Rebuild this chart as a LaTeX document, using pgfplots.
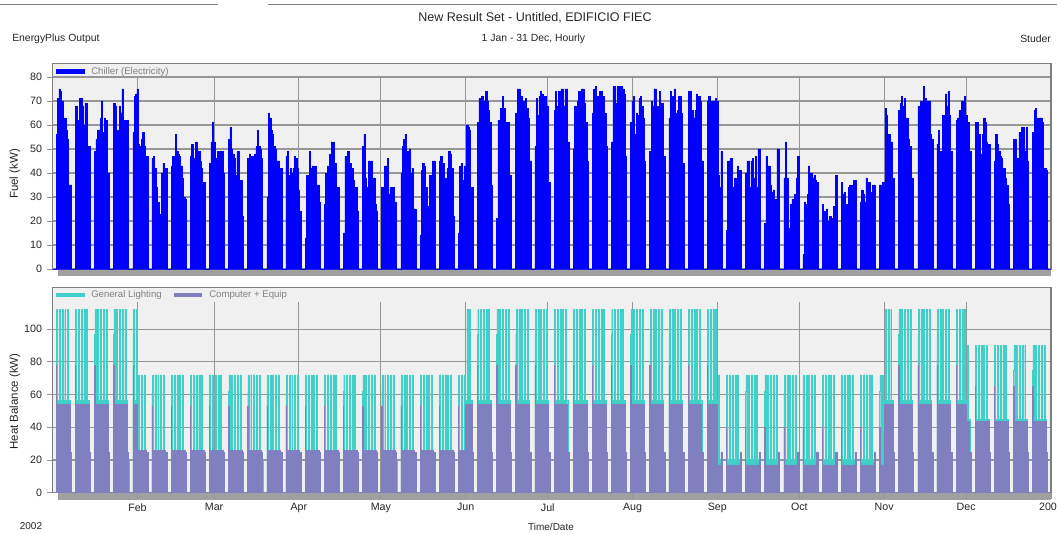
\documentclass[border=0pt]{standalone}
\usepackage{fontspec}
\setmainfont{Liberation Sans}
\usepackage{pgfplots}
\pgfplotsset{compat=1.18}

\definecolor{chill}{RGB}{0,0,255}
\definecolor{light}{RGB}{64,208,200}
\definecolor{equip}{RGB}{128,128,192}
\definecolor{panel}{RGB}{239,240,239}
\definecolor{gridc}{RGB}{150,150,150}
\definecolor{framec}{RGB}{128,128,128}
\definecolor{floorc}{RGB}{160,160,160}
\definecolor{legtext}{RGB}{128,128,128}

\pgfplotsset{
  eplus/.style={
    scale only axis,
    width=748.7pt, height=154.1pt,
    xmin=0, xmax=365, ymin=0,
    axis background/.style={fill=panel},
    axis line style={draw=framec, line width=0.8pt},
    tick align=outside,
    xtick pos=lower, ytick pos=left,
    major tick length=4.5pt,
    tick style={draw=gridc, line width=0.7pt},
    ymajorgrids,
    grid style={draw=gridc, line width=0.8pt},
    tick label style={font=\fontsize{8}{9}\selectfont, text=black!85},
    /pgf/number format/assume math mode=true,
  },
}

\begin{document}
\begin{tikzpicture}
\path[use as bounding box] (0,0) rectangle (792.75pt,399.75pt);

% header
\draw[framec, line width=0.75pt] (0,396pt) -- (163.5pt,396pt);
\draw[framec, line width=0.75pt] (201pt,396pt) -- (792.75pt,396pt);
\node[font=\fontsize{9.4}{11}\selectfont, text=black!85] at (401.25pt,386.25pt) {New Result Set - Untitled, EDIFICIO FIEC};
\node[font=\fontsize{7.8}{9}\selectfont, anchor=west, inner sep=0pt, text=black!85] at (9pt,370.5pt) {EnergyPlus Output};
\node[font=\fontsize{7.8}{9}\selectfont, text=black!85] at (400.1pt,370.5pt) {1 Jan - 31 Dec, Hourly};
\node[font=\fontsize{7.8}{9}\selectfont, anchor=west, inner sep=0pt, text=black!85] at (765pt,370.5pt) {Studer};

% floor strips
\fill[floorc] (43.7pt,192.75pt) rectangle (788.25pt,198pt);
\fill[floorc] (43.7pt,24.75pt) rectangle (788.25pt,30.2pt);

% ---------------- top panel: chiller electricity
\begin{axis}[eplus, at={(39.525pt,198pt)}, anchor=south west,
  ymax=85.6, ytick={0,10,...,80}, xtick=\empty]
\pgfplotsinvokeforeach{31,59,90,120,151,181,212,243,273,304,334}{
  \draw[gridc, line width=0.8pt] (axis cs:#1,0) -- (axis cs:#1,80);}
\addplot[const plot, fill=chill, draw=chill, line width=0.4pt] coordinates {
(0,0)
(1.3,56) (1.8,71) (2.3,75) (2.8,74) (3.3,70) (3.8,62) (4.3,63) (4.8,58) (5.3,54) (5.8,35) (6.3,35) (6.8,0)
(8.3,68) (8.8,58) (9.3,62) (9.8,71) (10.3,71) (10.8,68) (11.3,60) (11.8,69) (12.3,69) (12.8,51) (13.3,51) (13.8,0)
(15.3,49) (15.8,54) (16.3,58) (16.8,58) (17.3,63) (17.8,70) (18.3,57) (18.8,63) (19.3,62) (19.8,40) (20.3,40) (20.8,0)
(22.3,69) (22.8,68) (23.3,58) (23.8,57) (24.3,68) (24.8,65) (25.3,75) (25.8,62) (26.3,62) (26.8,62) (27.3,62) (27.8,0)
(29.3,57) (29.8,72) (30.3,73) (30.8,75) (31.3,52) (31.8,51) (32.3,54) (32.8,57) (33.3,51) (33.8,47) (34.3,47) (34.8,0)
(36.3,46) (36.8,47) (37.3,42) (37.8,34) (38.3,28) (38.8,23) (39.3,22) (39.8,40) (40.3,44) (40.8,42) (41.3,42) (41.8,0)
(43.3,43) (43.8,47) (44.3,47) (44.8,56) (45.3,49) (45.8,48) (46.3,47) (46.8,43) (47.3,38) (47.8,30) (48.3,29) (48.8,0)
(50.3,47) (50.8,52) (51.3,45) (51.8,46) (52.3,53) (52.8,45) (53.3,49) (53.8,45) (54.3,42) (54.8,36) (55.3,36) (55.8,0)
(57.3,44) (57.8,53) (58.3,61) (58.8,53) (59.3,46) (59.8,45) (60.3,49) (60.8,38) (61.3,49) (61.8,49) (62.3,40) (62.8,0)
(64.3,54) (64.8,59) (65.3,50) (65.8,48) (66.3,46) (66.8,39) (67.3,49) (67.8,49) (68.3,37) (68.8,37) (69.3,22) (69.8,0)
(71.3,46) (71.8,48) (72.3,47) (72.8,42) (73.3,47) (73.8,48) (74.3,51) (74.8,58) (75.3,51) (75.8,50) (76.3,46) (76.8,0)
(78.3,30) (78.8,65) (79.3,63) (79.8,58) (80.3,56) (80.8,51) (81.3,50) (81.8,45) (82.3,45) (82.8,42) (83.3,42) (83.8,0)
(85.3,47) (85.8,49) (86.3,39) (86.8,42) (87.3,40) (87.8,42) (88.3,47) (88.8,46) (89.3,42) (89.8,33) (90.3,24) (90.8,0)
(92.3,13) (92.8,39) (93.3,39) (93.8,49) (94.3,42) (94.8,43) (95.3,37) (95.8,43) (96.3,35) (96.8,35) (97.3,28) (97.8,0)
(99.3,27) (99.8,40) (100.3,43) (100.8,41) (101.3,48) (101.8,53) (102.3,53) (102.8,44) (103.3,44) (103.8,34) (104.3,34) (104.8,0)
(106.3,15) (106.8,47) (107.3,47) (107.8,49) (108.3,43) (108.8,44) (109.3,42) (109.8,37) (110.3,33) (110.8,34) (111.3,24) (111.8,0)
(113.3,51) (113.8,56) (114.3,38) (114.8,34) (115.3,45) (115.8,45) (116.3,45) (116.8,38) (117.3,38) (117.8,27) (118.3,24) (118.8,0)
(120.3,34) (120.8,34) (121.3,43) (121.8,43) (122.3,46) (122.8,31) (123.3,34) (123.8,28) (124.3,34) (124.8,22) (125.3,28) (125.8,0)
(127.3,40) (127.8,51) (128.3,54) (128.8,56) (129.3,45) (129.8,49) (130.3,50) (130.8,40) (131.3,42) (131.8,25) (132.3,25) (132.8,0)
(134.3,14) (134.8,41) (135.3,44) (135.8,43) (136.3,34) (136.8,22) (137.3,26) (137.8,39) (138.3,39) (138.8,45) (139.3,45) (139.8,0)
(141.3,45) (141.8,47) (142.3,41) (142.8,44) (143.3,38) (143.8,38) (144.3,42) (144.8,49) (145.3,48) (145.8,42) (146.3,22) (146.8,0)
(148.3,15) (148.8,43) (149.3,44) (149.8,37) (150.3,43) (150.8,43) (151.3,60) (151.8,59) (152.3,58) (152.8,34) (153.3,34) (153.8,0)
(155.3,61) (155.8,71) (156.3,71) (156.8,72) (157.3,66) (157.8,70) (158.3,74) (158.8,70) (159.3,66) (159.8,61) (160.3,35) (160.8,0)
(162.3,21) (162.8,62) (163.3,61) (163.8,67) (164.3,72) (164.8,67) (165.3,61) (165.8,61) (166.3,61) (166.8,39) (167.3,39) (167.8,0)
(169.3,65) (169.8,75) (170.3,75) (170.8,68) (171.3,72) (171.8,70) (172.3,67) (172.8,71) (173.3,67) (173.8,63) (174.3,45) (174.8,0)
(176.3,51) (176.8,71) (177.3,64) (177.8,72) (178.3,74) (178.8,73) (179.3,68) (179.8,72) (180.3,68) (180.8,68) (181.3,36) (181.8,0)
(183.3,66) (183.8,74) (184.3,68) (184.8,74) (185.3,74) (185.8,75) (186.3,75) (186.8,68) (187.3,75) (187.8,75) (188.3,53) (188.8,0)
(190.3,50) (190.8,68) (191.3,67) (191.8,70) (192.3,74) (192.8,70) (193.3,75) (193.8,75) (194.3,69) (194.8,61) (195.3,45) (195.8,0)
(197.3,65) (197.8,75) (198.3,76) (198.8,72) (199.3,68) (199.8,74) (200.3,74) (200.8,67) (201.3,72) (201.8,65) (202.3,51) (202.8,0)
(204.3,53) (204.8,76) (205.3,76) (205.8,69) (206.3,76) (206.8,69) (207.3,76) (207.8,76) (208.3,75) (208.8,73) (209.3,47) (209.8,0)
(211.3,61) (211.8,70) (212.3,72) (212.8,56) (213.3,65) (213.8,64) (214.3,71) (214.8,72) (215.3,68) (215.8,63) (216.3,45) (216.8,0)
(218.3,49) (218.8,70) (219.3,68) (219.8,75) (220.3,75) (220.8,68) (221.3,64) (221.8,74) (222.3,69) (222.8,69) (223.3,47) (223.8,0)
(225.3,63) (225.8,74) (226.3,72) (226.8,65) (227.3,75) (227.8,65) (228.3,66) (228.8,72) (229.3,72) (229.8,65) (230.3,44) (230.8,0)
(232.3,74) (232.8,74) (233.3,63) (233.8,66) (234.3,63) (234.8,66) (235.3,73) (235.8,72) (236.3,72) (236.8,70) (237.3,45) (237.8,0)
(239.3,70) (239.8,72) (240.3,70) (240.8,62) (241.3,70) (241.8,70) (242.3,71) (242.8,70) (243.3,39) (243.8,34) (244.3,49) (244.8,0)
(246.3,16) (246.8,45) (247.3,45) (247.8,46) (248.3,30) (248.8,34) (249.3,38) (249.8,28) (250.3,43) (250.8,41) (251.3,41) (251.8,0)
(253.3,40) (253.8,45) (254.3,45) (254.8,34) (255.3,45) (255.8,46) (256.3,38) (256.8,47) (257.3,34) (257.8,50) (258.3,50) (258.8,0)
(260.3,19) (260.8,47) (261.3,43) (261.8,43) (262.3,35) (262.8,32) (263.3,33) (263.8,28) (264.3,29) (264.8,50) (265.3,50) (265.8,0)
(267.3,38) (267.8,53) (268.3,38) (268.8,17) (269.3,15) (269.8,27) (270.3,29) (270.8,28) (271.3,31) (271.8,38) (272.3,47) (272.8,0)
(274.3,6) (274.8,28) (275.3,27) (275.8,31) (276.3,43) (276.8,40) (277.3,40) (277.8,38) (278.3,39) (278.8,37) (279.3,36) (279.8,0)
(281.3,27) (281.8,24) (282.3,24) (282.8,25) (283.3,20) (283.8,22) (284.3,22) (284.8,21) (285.3,26) (285.8,21) (286.3,39) (286.8,0)
(288.3,36) (288.8,31) (289.3,32) (289.8,25) (290.3,27) (290.8,34) (291.3,35) (291.8,34) (292.3,35) (292.8,37) (293.3,37) (293.8,0)
(295.3,28) (295.8,33) (296.3,31) (296.8,28) (297.3,38) (297.8,33) (298.3,36) (298.8,32) (299.3,31) (299.8,35) (300.3,35) (300.8,0)
(302.3,35) (302.8,31) (303.3,36) (303.8,36) (304.3,67) (304.8,64) (305.3,56) (305.8,56) (306.3,53) (306.8,38) (307.3,38) (307.8,0)
(309.3,66) (309.8,69) (310.3,72) (310.8,68) (311.3,71) (311.8,63) (312.3,63) (312.8,54) (313.3,51) (313.8,38) (314.3,38) (314.8,0)
(316.3,68) (316.8,64) (317.3,70) (317.8,65) (318.3,76) (318.8,71) (319.3,70) (319.8,65) (320.3,70) (320.8,56) (321.3,54) (321.8,0)
(323.3,52) (323.8,58) (324.3,49) (324.8,49) (325.3,64) (325.8,53) (326.3,73) (326.8,68) (327.3,74) (327.8,64) (328.3,49) (328.8,0)
(330.3,62) (330.8,63) (331.3,66) (331.8,66) (332.3,70) (332.8,63) (333.3,72) (333.8,64) (334.3,61) (334.8,61) (335.3,49) (335.8,0)
(337.3,61) (337.8,61) (338.3,47) (338.8,56) (339.3,48) (339.8,56) (340.3,63) (340.8,61) (341.3,53) (341.8,52) (342.3,52) (342.8,0)
(344.3,45) (344.8,56) (345.3,52) (345.8,49) (346.3,47) (346.8,46) (347.3,42) (347.8,42) (348.3,38) (348.8,35) (349.3,27) (349.8,0)
(351.3,54) (351.8,54) (352.3,45) (352.8,46) (353.3,57) (353.8,54) (354.3,59) (354.8,59) (355.3,49) (355.8,59) (356.3,45) (356.8,0)
(358.3,57) (358.8,66) (359.3,67) (359.8,63) (360.3,56) (360.8,63) (361.3,63) (361.8,61) (362.3,42) (362.8,42) (363.3,41) (363.8,0)
(365,0)
} \closedcycle;
\end{axis}

% ---------------- bottom panel: heat balance
\begin{axis}[eplus, at={(39.525pt,30.225pt)}, anchor=south west,
  ymax=125.6, ytick={0,20,...,100},
  xtick={31,59,90,120,151,181,212,243,273,304,334,365},
  xticklabels={Feb,Mar,Apr,May,Jun,Jul,Aug,Sep,Oct,Nov,Dec,2003},
  xticklabel style={font=\fontsize{8}{9}\selectfont}]
\pgfplotsinvokeforeach{31,59,90,120,151,181,212,243,273,304,334}{
  \draw[gridc, line width=0.8pt] (axis cs:#1,0) -- (axis cs:#1,116.8);}
% General Lighting
\addplot[const plot, fill=light, draw=light, line width=0.3pt] coordinates {
(0,0)
(1.3,97) (1.4,112) (1.75,56.5) (2.4,112) (2.75,56.5) (3.4,112) (3.75,56.5) (4.4,112) (4.75,56.5) (5.4,112) (5.75,56.5) (6.3,20) (6.8,0)
(8.3,97) (8.4,112) (8.75,56.5) (9.4,112) (9.75,56.5) (10.4,112) (10.75,56.5) (11.4,112) (11.75,56.5) (12.4,112) (12.75,56.5) (13.3,20) (13.8,0)
(15.3,97) (15.4,112) (15.75,56.5) (16.4,112) (16.75,56.5) (17.4,112) (17.75,56.5) (18.4,112) (18.75,56.5) (19.4,112) (19.75,56.5) (20.3,20) (20.8,0)
(22.3,97) (22.4,112) (22.75,56.5) (23.4,112) (23.75,56.5) (24.4,112) (24.75,56.5) (25.4,112) (25.75,56.5) (26.4,112) (26.75,56.5) (27.3,20) (27.8,0)
(29.3,97) (29.4,112) (29.75,56.5) (30.4,112) (30.75,56.5) (31,24) (31.4,72) (31.75,24) (32.4,72) (32.75,24) (33.4,72) (33.75,24) (34.3,20) (34.8,0)
(36.3,62) (36.4,72) (36.75,24) (37.4,72) (37.75,24) (38.4,72) (38.75,24) (39.4,72) (39.75,24) (40.4,72) (40.75,24) (41.3,20) (41.8,0)
(43.3,62) (43.4,72) (43.75,24) (44.4,72) (44.75,24) (45.4,72) (45.75,24) (46.4,72) (46.75,24) (47.4,72) (47.75,24) (48.3,20) (48.8,0)
(50.3,62) (50.4,72) (50.75,24) (51.4,72) (51.75,24) (52.4,72) (52.75,24) (53.4,72) (53.75,24) (54.4,72) (54.75,24) (55.3,20) (55.8,0)
(57.3,62) (57.4,72) (57.75,24) (58.4,72) (58.75,24) (59.4,72) (59.75,24) (60.4,72) (60.75,24) (61.4,72) (61.75,24) (62.3,20) (62.8,0)
(64.3,62) (64.4,72) (64.75,24) (65.4,72) (65.75,24) (66.4,72) (66.75,24) (67.4,72) (67.75,24) (68.4,72) (68.75,24) (69.3,20) (69.8,0)
(71.3,62) (71.4,72) (71.75,24) (72.4,72) (72.75,24) (73.4,72) (73.75,24) (74.4,72) (74.75,24) (75.4,72) (75.75,24) (76.3,20) (76.8,0)
(78.3,62) (78.4,72) (78.75,24) (79.4,72) (79.75,24) (80.4,72) (80.75,24) (81.4,72) (81.75,24) (82.4,72) (82.75,24) (83.3,20) (83.8,0)
(85.3,62) (85.4,72) (85.75,24) (86.4,72) (86.75,24) (87.4,72) (87.75,24) (88.4,72) (88.75,24) (89.4,72) (89.75,24) (90.3,20) (90.8,0)
(92.3,62) (92.4,72) (92.75,24) (93.4,72) (93.75,24) (94.4,72) (94.75,24) (95.4,72) (95.75,24) (96.4,72) (96.75,24) (97.3,20) (97.8,0)
(99.3,62) (99.4,72) (99.75,24) (100.4,72) (100.75,24) (101.4,72) (101.75,24) (102.4,72) (102.75,24) (103.4,72) (103.75,24) (104.3,20) (104.8,0)
(106.3,62) (106.4,72) (106.75,24) (107.4,72) (107.75,24) (108.4,72) (108.75,24) (109.4,72) (109.75,24) (110.4,72) (110.75,24) (111.3,20) (111.8,0)
(113.3,62) (113.4,72) (113.75,24) (114.4,72) (114.75,24) (115.4,72) (115.75,24) (116.4,72) (116.75,24) (117.4,72) (117.75,24) (118.3,20) (118.8,0)
(120.3,62) (120.4,72) (120.75,24) (121.4,72) (121.75,24) (122.4,72) (122.75,24) (123.4,72) (123.75,24) (124.4,72) (124.75,24) (125.3,20) (125.8,0)
(127.3,62) (127.4,72) (127.75,24) (128.4,72) (128.75,24) (129.4,72) (129.75,24) (130.4,72) (130.75,24) (131.4,72) (131.75,24) (132.3,20) (132.8,0)
(134.3,62) (134.4,72) (134.75,24) (135.4,72) (135.75,24) (136.4,72) (136.75,24) (137.4,72) (137.75,24) (138.4,72) (138.75,24) (139.3,20) (139.8,0)
(141.3,62) (141.4,72) (141.75,24) (142.4,72) (142.75,24) (143.4,72) (143.75,24) (144.4,72) (144.75,24) (145.4,72) (145.75,24) (146.3,20) (146.8,0)
(148.3,62) (148.4,72) (148.75,24) (149.4,72) (149.75,24) (150.4,72) (150.75,24) (151,56.5) (151.4,112) (151.75,56.5) (152.4,112) (152.75,56.5) (153.3,20) (153.8,0)
(155.3,97) (155.4,112) (155.75,56.5) (156.4,112) (156.75,56.5) (157.4,112) (157.75,56.5) (158.4,112) (158.75,56.5) (159.4,112) (159.75,56.5) (160.3,20) (160.8,0)
(162.3,97) (162.4,112) (162.75,56.5) (163.4,112) (163.75,56.5) (164.4,112) (164.75,56.5) (165.4,112) (165.75,56.5) (166.4,112) (166.75,56.5) (167.3,20) (167.8,0)
(169.3,97) (169.4,112) (169.75,56.5) (170.4,112) (170.75,56.5) (171.4,112) (171.75,56.5) (172.4,112) (172.75,56.5) (173.4,112) (173.75,56.5) (174.3,20) (174.8,0)
(176.3,97) (176.4,112) (176.75,56.5) (177.4,112) (177.75,56.5) (178.4,112) (178.75,56.5) (179.4,112) (179.75,56.5) (180.4,112) (180.75,56.5) (181.3,20) (181.8,0)
(183.3,97) (183.4,112) (183.75,56.5) (184.4,112) (184.75,56.5) (185.4,112) (185.75,56.5) (186.4,112) (186.75,56.5) (187.4,112) (187.75,56.5) (188.3,20) (188.8,0)
(190.3,97) (190.4,112) (190.75,56.5) (191.4,112) (191.75,56.5) (192.4,112) (192.75,56.5) (193.4,112) (193.75,56.5) (194.4,112) (194.75,56.5) (195.3,20) (195.8,0)
(197.3,97) (197.4,112) (197.75,56.5) (198.4,112) (198.75,56.5) (199.4,112) (199.75,56.5) (200.4,112) (200.75,56.5) (201.4,112) (201.75,56.5) (202.3,20) (202.8,0)
(204.3,97) (204.4,112) (204.75,56.5) (205.4,112) (205.75,56.5) (206.4,112) (206.75,56.5) (207.4,112) (207.75,56.5) (208.4,112) (208.75,56.5) (209.3,20) (209.8,0)
(211.3,97) (211.4,112) (211.75,56.5) (212.4,112) (212.75,56.5) (213.4,112) (213.75,56.5) (214.4,112) (214.75,56.5) (215.4,112) (215.75,56.5) (216.3,20) (216.8,0)
(218.3,97) (218.4,112) (218.75,56.5) (219.4,112) (219.75,56.5) (220.4,112) (220.75,56.5) (221.4,112) (221.75,56.5) (222.4,112) (222.75,56.5) (223.3,20) (223.8,0)
(225.3,97) (225.4,112) (225.75,56.5) (226.4,112) (226.75,56.5) (227.4,112) (227.75,56.5) (228.4,112) (228.75,56.5) (229.4,112) (229.75,56.5) (230.3,20) (230.8,0)
(232.3,97) (232.4,112) (232.75,56.5) (233.4,112) (233.75,56.5) (234.4,112) (234.75,56.5) (235.4,112) (235.75,56.5) (236.4,112) (236.75,56.5) (237.3,20) (237.8,0)
(239.3,97) (239.4,112) (239.75,56.5) (240.4,112) (240.75,56.5) (241.4,112) (241.75,56.5) (242.4,112) (242.75,56.5) (243,20.5) (243.4,72) (243.75,20.5) (244.3,20) (244.8,0)
(246.3,62) (246.4,72) (246.75,20.5) (247.4,72) (247.75,20.5) (248.4,72) (248.75,20.5) (249.4,72) (249.75,20.5) (250.4,72) (250.75,20.5) (251.3,20) (251.8,0)
(253.3,62) (253.4,72) (253.75,20.5) (254.4,72) (254.75,20.5) (255.4,72) (255.75,20.5) (256.4,72) (256.75,20.5) (257.4,72) (257.75,20.5) (258.3,20) (258.8,0)
(260.3,62) (260.4,72) (260.75,20.5) (261.4,72) (261.75,20.5) (262.4,72) (262.75,20.5) (263.4,72) (263.75,20.5) (264.4,72) (264.75,20.5) (265.3,20) (265.8,0)
(267.3,62) (267.4,72) (267.75,20.5) (268.4,72) (268.75,20.5) (269.4,72) (269.75,20.5) (270.4,72) (270.75,20.5) (271.4,72) (271.75,20.5) (272.3,20) (272.8,0)
(274.3,62) (274.4,72) (274.75,20.5) (275.4,72) (275.75,20.5) (276.4,72) (276.75,20.5) (277.4,72) (277.75,20.5) (278.4,72) (278.75,20.5) (279.3,20) (279.8,0)
(281.3,62) (281.4,72) (281.75,20.5) (282.4,72) (282.75,20.5) (283.4,72) (283.75,20.5) (284.4,72) (284.75,20.5) (285.4,72) (285.75,20.5) (286.3,20) (286.8,0)
(288.3,62) (288.4,72) (288.75,20.5) (289.4,72) (289.75,20.5) (290.4,72) (290.75,20.5) (291.4,72) (291.75,20.5) (292.4,72) (292.75,20.5) (293.3,20) (293.8,0)
(295.3,62) (295.4,72) (295.75,20.5) (296.4,72) (296.75,20.5) (297.4,72) (297.75,20.5) (298.4,72) (298.75,20.5) (299.4,72) (299.75,20.5) (300.3,20) (300.8,0)
(302.3,62) (302.4,72) (302.75,20.5) (303.4,72) (303.75,20.5) (304,56.5) (304.4,112) (304.75,56.5) (305.4,112) (305.75,56.5) (306.4,112) (306.75,56.5) (307.3,20) (307.8,0)
(309.3,97) (309.4,112) (309.75,56.5) (310.4,112) (310.75,56.5) (311.4,112) (311.75,56.5) (312.4,112) (312.75,56.5) (313.4,112) (313.75,56.5) (314.3,20) (314.8,0)
(316.3,97) (316.4,112) (316.75,56.5) (317.4,112) (317.75,56.5) (318.4,112) (318.75,56.5) (319.4,112) (319.75,56.5) (320.4,112) (320.75,56.5) (321.3,20) (321.8,0)
(323.3,97) (323.4,112) (323.75,56.5) (324.4,112) (324.75,56.5) (325.4,112) (325.75,56.5) (326.4,112) (326.75,56.5) (327.4,112) (327.75,56.5) (328.3,20) (328.8,0)
(330.3,97) (330.4,112) (330.75,56.5) (331.4,112) (331.75,56.5) (332.4,112) (332.75,56.5) (333.4,112) (333.75,56.5) (334,45) (334.4,90) (334.75,45) (335.3,20) (335.8,0)
(337.3,75) (337.4,90) (337.75,45) (338.4,90) (338.75,45) (339.4,90) (339.75,45) (340.4,90) (340.75,45) (341.4,90) (341.75,45) (342.3,20) (342.8,0)
(344.3,75) (344.4,90) (344.75,45) (345.4,90) (345.75,45) (346.4,90) (346.75,45) (347.4,90) (347.75,45) (348.4,90) (348.75,45) (349.3,20) (349.8,0)
(351.3,75) (351.4,90) (351.75,45) (352.4,90) (352.75,45) (353.4,90) (353.75,45) (354.4,90) (354.75,45) (355.4,90) (355.75,45) (356.3,20) (356.8,0)
(358.3,75) (358.4,90) (358.75,45) (359.4,90) (359.75,45) (360.4,90) (360.75,45) (361.4,90) (361.75,45) (362.4,90) (362.75,45) (363.3,20) (363.8,0)
(365,0)
} \closedcycle;
% Computer + Equip
\addplot[const plot, fill=equip, draw=equip, line width=0.4pt] coordinates {
(0,0)
(1.3,78) (1.4,54) (6.3,25) (6.8,0)
(8.3,78) (8.4,54) (13.3,25) (13.8,0)
(15.3,78) (15.4,54) (20.3,25) (20.8,0)
(22.3,78) (22.4,54) (27.3,25) (27.8,0)
(29.3,78) (29.4,54) (31,26) (34.3,25) (34.8,0)
(36.3,53) (36.4,26) (41.3,25) (41.8,0)
(43.3,53) (43.4,26) (48.3,25) (48.8,0)
(50.3,53) (50.4,26) (55.3,25) (55.8,0)
(57.3,53) (57.4,26) (62.3,25) (62.8,0)
(64.3,53) (64.4,26) (69.3,25) (69.8,0)
(71.3,53) (71.4,26) (76.3,25) (76.8,0)
(78.3,53) (78.4,26) (83.3,25) (83.8,0)
(85.3,53) (85.4,26) (90.3,25) (90.8,0)
(92.3,53) (92.4,26) (97.3,25) (97.8,0)
(99.3,53) (99.4,26) (104.3,25) (104.8,0)
(106.3,53) (106.4,26) (111.3,25) (111.8,0)
(113.3,53) (113.4,26) (118.3,25) (118.8,0)
(120.3,53) (120.4,26) (125.3,25) (125.8,0)
(127.3,53) (127.4,26) (132.3,25) (132.8,0)
(134.3,53) (134.4,26) (139.3,25) (139.8,0)
(141.3,53) (141.4,26) (146.3,25) (146.8,0)
(148.3,53) (148.4,26) (151,54) (153.3,25) (153.8,0)
(155.3,78) (155.4,54) (160.3,25) (160.8,0)
(162.3,78) (162.4,54) (167.3,25) (167.8,0)
(169.3,78) (169.4,54) (174.3,25) (174.8,0)
(176.3,78) (176.4,54) (181.3,25) (181.8,0)
(183.3,78) (183.4,54) (188.3,25) (188.8,0)
(190.3,78) (190.4,54) (195.3,25) (195.8,0)
(197.3,78) (197.4,54) (202.3,25) (202.8,0)
(204.3,78) (204.4,54) (209.3,25) (209.8,0)
(211.3,78) (211.4,54) (216.3,25) (216.8,0)
(218.3,78) (218.4,54) (223.3,25) (223.8,0)
(225.3,78) (225.4,54) (230.3,25) (230.8,0)
(232.3,78) (232.4,54) (237.3,25) (237.8,0)
(239.3,78) (239.4,54) (243,17) (244.3,25) (244.8,0)
(246.3,40) (246.4,17) (251.3,25) (251.8,0)
(253.3,40) (253.4,17) (258.3,25) (258.8,0)
(260.3,40) (260.4,17) (265.3,25) (265.8,0)
(267.3,40) (267.4,17) (272.3,25) (272.8,0)
(274.3,40) (274.4,17) (279.3,25) (279.8,0)
(281.3,40) (281.4,17) (286.3,25) (286.8,0)
(288.3,40) (288.4,17) (293.3,25) (293.8,0)
(295.3,40) (295.4,17) (300.3,25) (300.8,0)
(302.3,40) (302.4,17) (304,54) (307.3,25) (307.8,0)
(309.3,78) (309.4,54) (314.3,25) (314.8,0)
(316.3,78) (316.4,54) (321.3,25) (321.8,0)
(323.3,78) (323.4,54) (328.3,25) (328.8,0)
(330.3,78) (330.4,54) (334,43.5) (335.3,25) (335.8,0)
(337.3,65) (337.4,43.5) (342.3,25) (342.8,0)
(344.3,65) (344.4,43.5) (349.3,25) (349.8,0)
(351.3,65) (351.4,43.5) (356.3,25) (356.8,0)
(358.3,65) (358.4,43.5) (363.3,25) (363.8,0)
(365,0)
} \closedcycle;
\end{axis}

% legends
\fill[chill] (42pt,344.25pt) rectangle (63.75pt,347.8pt);
\node[font=\fontsize{7.2}{9}\selectfont, text=legtext, anchor=west, inner sep=0pt] at (68.25pt,346.1pt) {Chiller (Electricity)};
\fill[light] (42pt,176.8pt) rectangle (63.75pt,179.8pt);
\node[font=\fontsize{7.2}{9}\selectfont, text=legtext, anchor=west, inner sep=0pt] at (68.25pt,178.3pt) {General Lighting};
\fill[equip] (130.5pt,176.8pt) rectangle (151.5pt,179.8pt);
\node[font=\fontsize{7.2}{9}\selectfont, text=legtext, anchor=west, inner sep=0pt] at (156.75pt,178.3pt) {Computer + Equip};

% axis titles
\node[font=\fontsize{8.6}{10}\selectfont, rotate=90, text=black!85] at (11.25pt,269.25pt) {Fuel (kW)};
\node[font=\fontsize{8.6}{10}\selectfont, rotate=90, text=black!85] at (11.25pt,98.6pt) {Heat Balance (kW)};
\node[font=\fontsize{7.5}{9}\selectfont, text=black!85] at (413.25pt,4.6pt) {Time/Date};
\node[font=\fontsize{7.5}{9}\selectfont, text=black!85] at (23.25pt,5pt) {2002};
\end{tikzpicture}
\end{document}
